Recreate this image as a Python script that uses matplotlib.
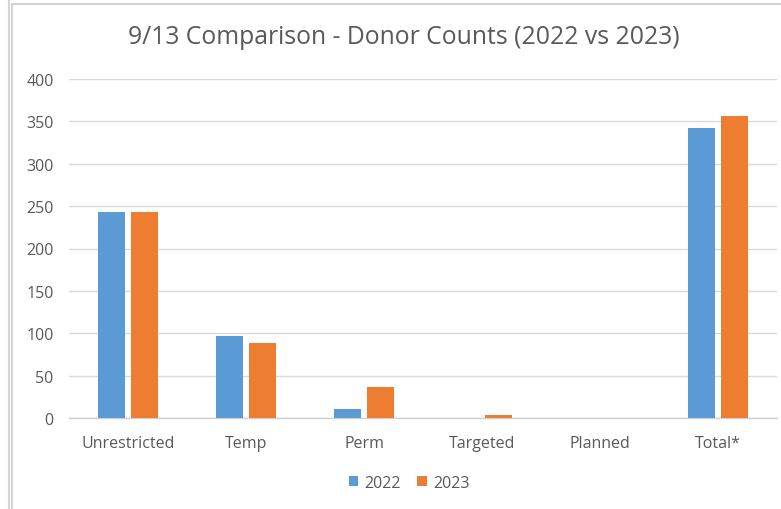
import numpy as np
import matplotlib.pyplot as plt
from matplotlib.lines import Line2D

categories = ["Unrestricted", "Temp", "Perm", "Targeted", "Planned", "Total*"]
counts_2022 = [243, 97, 11, 0, 0, 342]
counts_2023 = [243, 88, 36, 4, 0, 356]
series_labels = ["2022", "2023"]

W, H = 781, 510
fig = plt.figure(figsize=(W / 100, H / 100), dpi=100)
plt.rcParams['font.family'] = ['Open Sans', 'DejaVu Sans']

ax = fig.add_axes([69 / W, 1 - 419 / H, (777 - 69) / W, (419 - 80) / H])

x = np.arange(len(categories))
bw = 0.225
off = 0.142
ax.bar(x - off, counts_2022, bw, color="#5B9BD5", label=series_labels[0], zorder=3)
ax.bar(x + off, counts_2023, bw, color="#ED7D31", label=series_labels[1], zorder=3)

ax.set_xlim(-0.5, len(categories) - 0.5)
ax.set_ylim(0, 400)
ax.set_yticks(np.arange(0, 401, 50))
ax.set_xticks(x)
ax.set_xticklabels(categories)
ax.yaxis.grid(True, color="#D9D9D9", linewidth=1.0, zorder=0)
ax.set_axisbelow(True)
for s in ["top", "right", "left"]:
    ax.spines[s].set_visible(False)
ax.spines["bottom"].set_color("#D0D0D0")
ax.spines["bottom"].set_linewidth(1.0)
ax.tick_params(axis="both", length=0, colors="#595959", labelsize=11.5)
ax.tick_params(axis="y", pad=11)
ax.tick_params(axis="x", pad=12)

fig.text(404 / W, 1 - 38 / H, "9/13 Comparison - Donor Counts (2022 vs 2023)",
         ha="center", va="center", fontsize=17.8, color="#595959")

fig.legend(loc="center", bbox_to_anchor=(409 / W, 1 - 484 / H), ncol=2,
           frameon=False, fontsize=11.5, labelcolor="#595959",
           handlelength=0.6, handleheight=0.6, handletextpad=0.4, columnspacing=1.0)

# screenshot borders
border = "#D4D4D4"
fig.add_artist(Line2D([8.5 / W, 8.5 / W], [0, 1], color=border, lw=1.5))
fig.add_artist(Line2D([11.5 / W, 11.5 / W], [0, 1 - 4.5 / H], color=border, lw=1.5))
fig.add_artist(Line2D([11.5 / W, 1], [1 - 4.5 / H, 1 - 4.5 / H], color=border, lw=1.5))

fig.savefig("out.png", dpi=100)
